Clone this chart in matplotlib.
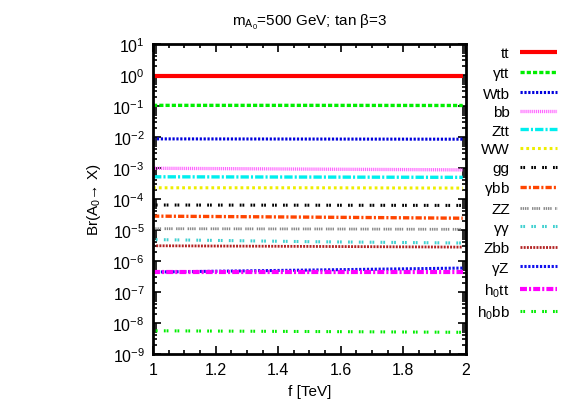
import numpy as np
import matplotlib
matplotlib.use('Agg')
import matplotlib.pyplot as plt
from matplotlib.ticker import LogLocator, MultipleLocator, NullFormatter

plt.rcParams['font.family'] = ['Liberation Sans', 'DejaVu Sans']
plt.rcParams['mathtext.default'] = 'regular'
plt.rcParams['lines.scale_dashes'] = False

# f values (TeV) and branching ratios
f = [1.0, 1.5, 1.99]
br_tt = [0.93, 0.93, 0.93]
br_gtt = [0.105, 0.105, 0.104]
br_wtb = [8.7e-3, 8.6e-3, 8.5e-3]
br_bb = [9.8e-4, 9.2e-4, 8.7e-4]
br_ztt = [5.2e-4, 5.1e-4, 5.0e-4]
br_ww = [2.3e-4, 2.3e-4, 2.25e-4]
br_gg = [6.4e-5, 6.3e-5, 6.2e-5]
br_gbb = [2.8e-5, 2.6e-5, 2.4e-5]
br_zz = [1.1e-5, 1.08e-5, 1.05e-5]
br_gamgam = [4.9e-6, 4.2e-6, 3.8e-6]
br_zbb = [3.1e-6, 2.95e-6, 2.8e-6]
br_gz = [4.4e-7, 5.1e-7, 5.9e-7]
br_h0tt = [4.4e-7, 4.4e-7, 4.4e-7]
br_h0bb = [5.6e-9, 5.3e-9, 5.0e-9]

labels = ['tt', r'$\gamma$tt', 'Wtb', 'bb', 'Ztt', 'WW', 'gg', r'$\gamma$bb',
          'ZZ', r'$\gamma\gamma$', 'Zbb', r'$\gamma$Z', 'h$_0$tt', 'h$_0$bb']
series = [br_tt, br_gtt, br_wtb, br_bb, br_ztt, br_ww, br_gg, br_gbb,
          br_zz, br_gamgam, br_zbb, br_gz, br_h0tt, br_h0bb]
colors = ['#ff0000', '#00ee00', '#0000dd', '#ff66ff', '#00eeee', '#eeee00',
          '#000000', '#ff4500', '#888888', '#40d0d0', '#b22222', '#1010ee',
          '#ff00ff', '#00ee00']
dashes = [None, (3, 1.5), (1.6, 1.2), (0.8, 0.6), (6, 1.5, 1.5, 1.5),
          (2, 2.2), (1.3, 0.7, 1.3, 4.5), (4.5, 1.5, 1.5, 1.5),
          (1, 0.6, 1, 0.6, 1, 0.6, 1, 2.5), (1.3, 0.7, 1.3, 4.5), (1.4, 0.9),
          (1.6, 1.2), (5, 1.5, 1.5, 1.5), (1.3, 0.7, 1.3, 4.5)]
widths = [3.0, 2.4, 2.2, 2.4, 2.4, 2.2, 2.2, 2.4, 2.0, 2.2, 2.0, 2.2, 3.0, 2.2]

fig = plt.figure(figsize=(5.74, 4.02), dpi=100)
ax = fig.add_axes([0.2666, 0.117, 0.545, 0.771])

for y, lab, c, d, w in zip(series, labels, colors, dashes, widths):
    line, = ax.plot(f, y, color=c, lw=w, label=lab, solid_capstyle='butt',
                    dash_capstyle='butt')
    if d is not None:
        line.set_dashes(d)

ax.set_yscale('log')
ax.set_xlim(1, 2)
ax.set_ylim(1e-9, 10)
ax.xaxis.set_major_locator(MultipleLocator(0.2))
ax.xaxis.set_minor_locator(MultipleLocator(0.05))
ax.yaxis.set_major_locator(LogLocator(base=10, numticks=20))
ax.yaxis.set_minor_locator(LogLocator(base=10, subs=np.arange(2, 10), numticks=20))
ax.yaxis.set_minor_formatter(NullFormatter())
ax.set_xticks([1, 1.2, 1.4, 1.6, 1.8, 2])
ax.set_xticklabels(['1', '1.2', '1.4', '1.6', '1.8', '2'])

ax.tick_params(which='both', direction='in', top=True, right=True, labelsize=11.5,
               width=1.2, color='black')
ax.tick_params(which='major', length=6, pad=6)
ax.tick_params(which='minor', length=3)
for s in ax.spines.values():
    s.set_linewidth(2)

ax.set_xlabel('f [TeV]', fontsize=11, labelpad=5)
ax.set_ylabel('Br(A$_0$→ X)', fontsize=11, labelpad=7)
ax.set_title(r'm$_{A_0}$=500 GeV; tan $\beta$=3', fontsize=11, pad=14)

leg = ax.legend(loc='upper left', bbox_to_anchor=(1.0, 1.027), frameon=False,
                markerfirst=False, fontsize=11, handlelength=2.4,
                labelspacing=0.3, handletextpad=0.7, borderaxespad=0.3)

fig.savefig('out.png', dpi=100)
